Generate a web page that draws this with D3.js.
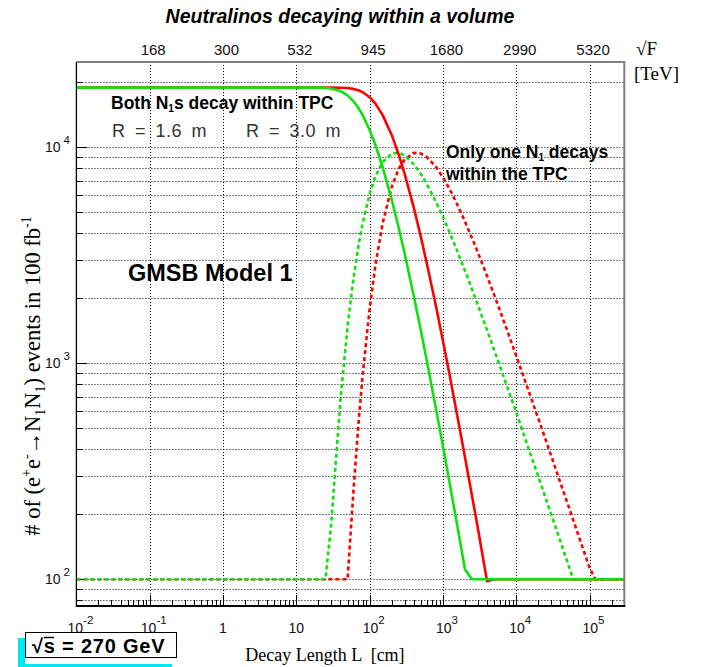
<!DOCTYPE html>
<html>
<head>
<meta charset="utf-8">
<script src="https://cdn.jsdelivr.net/npm/d3@7/dist/d3.min.js"></script>
<style>
  body { margin: 0; background: #fff; }
  svg { display: block; }
</style>
</head>
<body>
<svg id="chart" width="703" height="667"></svg>
<script>
// Decay length L in cm (shared sampling for all four curves)
const decayLength = [0.01, 10, 20, 25, 30, 40, 50, 60, 70, 80, 100, 120, 150, 200, 250, 300, 400, 500, 600, 800,
  1000, 1200, 1500, 2000, 2500, 3000, 4000, 5000, 7000, 10000, 15000, 20000, 30000, 40000, 50000, 60000,
  70000, 80000, 100000, 120000, 150000, 300000];

// Both N1s decay within the TPC
const bothR16 = [18900, 18900, 18890, 18840, 18720, 18210, 17390, 16370, 15250, 14130, 12030, 10250, 8130, 5730,
  4220, 3230, 2050, 1420, 1036, 621, 414, 294, 193, 111, 100, 100, 100, 100, 100, 100, 100, 100, 100, 100, 100,
  100, 100, 100, 100, 100, 100, 100];
const bothR30 = [18900, 18900, 18900, 18900, 18900, 18880, 18810, 18640, 18380, 18020, 17060, 15930, 14130, 11410,
  9220, 7550, 5260, 3850, 2920, 1850, 1270, 925, 621, 367, 242, 172, 98, 100, 100, 100, 100, 100, 100, 100, 100,
  100, 100, 100, 100, 100, 100, 100];

// Only one N1 decays within the TPC
const oneR16 = [100, 100, 100, 100, 182, 679, 1479, 2445, 3453, 4422, 6091, 7337, 8532, 9353, 9421, 9166, 8354,
  7518, 6777, 5611, 4764, 4128, 3438, 2683, 2198, 1860, 1424, 1153, 835, 592, 396, 299, 200, 150, 120, 100, 100,
  100, 100, 100, 100, 100];
const oneR30 = [100, 100, 100, 100, 100, 100, 100, 253, 513, 868, 1788, 2848, 4422, 6551, 7956, 8791, 9421, 9360,
  9021, 8124, 7258, 6512, 5611, 4532, 3791, 3256, 2536, 2073, 1519, 1084, 733, 555, 373, 280, 225, 188, 161, 141,
  113, 100, 100, 100];

// Axis ticks and labels
const bottomTicks = [0.01, 0.1, 1, 10, 100, 1000, 10000, 100000];
const bottomLabels = [["10", "-2"], ["10", "-1"], ["1", ""], ["10", ""], ["10", "2"], ["10", "3"], ["10", "4"], ["10", "5"]];
const topTicks = [0.1, 1, 10, 100, 1000, 10000, 100000];
const topLabels = ["168", "300", "532", "945", "1680", "2990", "5320"];
const leftTicks = [100, 1000, 10000];
const leftLabels = [["10", "2"], ["10", "3"], ["10", "4"]];

const GREEN = "#10e010";
const RED = "#ff0000";
const SANS = "'Liberation Sans', Arial, Helvetica, sans-serif";
const SERIF = "'Liberation Serif', 'Times New Roman', serif";

const svg = d3.select("#chart");
const plot = { left: 76.4, right: 624.3, top: 62, bottom: 606 };

const x = d3.scaleLog().domain([0.01, 298000]).range([plot.left, plot.right]);
const y = d3.scaleLog().domain([75.2, 24830]).range([plot.bottom, plot.top]);

// Minor/major tick positions along each log axis
function logSteps(lo, hi) {
  const out = [];
  for (let e = Math.floor(Math.log10(lo)); e <= Math.ceil(Math.log10(hi)); e++) {
    for (let m = 1; m <= 9; m++) {
      const v = m * Math.pow(10, e);
      if (v >= lo * 1.0001 && v <= hi / 1.0001) out.push(v);
    }
  }
  return out;
}
const isDecade = d => Math.abs(Math.log10(d) - Math.round(Math.log10(d))) < 1e-6;
const yGrid = logSteps(75.2, 24830);
const xMinor = logSteps(0.01, 298000);

svg.append("defs").append("clipPath").attr("id", "plotClip")
  .append("rect")
  .attr("x", plot.left).attr("y", plot.top)
  .attr("width", plot.right - plot.left).attr("height", plot.bottom - plot.top);

// Dotted grid
const grid = svg.append("g").attr("stroke", "#000").attr("stroke-width", 1).attr("stroke-dasharray", "1,2");
grid.selectAll("line.h").data(yGrid).join("line")
  .attr("x1", plot.left).attr("x2", plot.right)
  .attr("y1", d => Math.round(y(d)) + 0.5).attr("y2", d => Math.round(y(d)) + 0.5);
grid.selectAll("line.v").data(bottomTicks.slice(1)).join("line")
  .attr("y1", plot.top).attr("y2", plot.bottom)
  .attr("x1", d => Math.round(x(d)) + 0.5).attr("x2", d => Math.round(x(d)) + 0.5);

// Inner ticks on bottom and left edges
const ticks = svg.append("g").attr("stroke", "#000").attr("stroke-width", 1);
ticks.selectAll("line.bx").data(xMinor).join("line")
  .attr("x1", d => Math.round(x(d)) + 0.5).attr("x2", d => Math.round(x(d)) + 0.5)
  .attr("y1", plot.bottom)
  .attr("y2", d => plot.bottom - (isDecade(d) ? 11 : 6));
ticks.selectAll("line.ly").data(yGrid).join("line")
  .attr("y1", d => Math.round(y(d)) + 0.5).attr("y2", d => Math.round(y(d)) + 0.5)
  .attr("x1", plot.left)
  .attr("x2", d => plot.left + (isDecade(d) ? 11 : 6));

// Curves
const line = d3.line().x(d => x(d[0])).y(d => y(d[1]));
const curves = svg.append("g").attr("clip-path", "url(#plotClip)").attr("fill", "none")
  .attr("stroke-width", 2.6).attr("stroke-linejoin", "round");
const series = [
  { v: oneR30, c: RED, dash: "4,3" },
  { v: oneR16, c: GREEN, dash: "4,3" },
  { v: bothR30, c: RED, dash: null },
  { v: bothR16, c: GREEN, dash: null }
];
series.forEach(s => {
  curves.append("path")
    .datum(decayLength.map((L, i) => [L, s.v[i]]))
    .attr("d", line)
    .attr("stroke", s.c)
    .attr("stroke-dasharray", s.dash);
});

// Frame
const frame = svg.append("g").attr("fill", "none");
frame.append("line").attr("x1", plot.left).attr("x2", plot.right + 1).attr("y1", plot.top).attr("y2", plot.top)
  .attr("stroke", "#808080").attr("stroke-width", 2);
frame.append("line").attr("x1", plot.right).attr("x2", plot.right).attr("y1", plot.top).attr("y2", plot.bottom)
  .attr("stroke", "#808080").attr("stroke-width", 2);
frame.append("line").attr("x1", plot.left).attr("x2", plot.left).attr("y1", plot.top).attr("y2", plot.bottom + 1)
  .attr("stroke", "#000").attr("stroke-width", 1.3);
frame.append("line").attr("x1", plot.left).attr("x2", plot.right + 1).attr("y1", plot.bottom).attr("y2", plot.bottom)
  .attr("stroke", "#000").attr("stroke-width", 2);

// Bottom axis labels (powers of ten)
const bl = svg.append("g").attr("font-family", SANS).attr("font-size", 14).attr("fill", "#111");
bottomTicks.forEach((t, i) => {
  const [base, exp] = bottomLabels[i];
  const tx = bl.append("text").attr("x", x(t) + (exp ? 4 : 0)).attr("y", 633).attr("text-anchor", "middle");
  tx.append("tspan").text(base);
  if (exp) tx.append("tspan").attr("dy", -9).attr("font-size", 11.5).text(exp);
});

// Left axis labels
leftTicks.forEach((t, i) => {
  const [base, exp] = leftLabels[i];
  const tx = bl.append("text").attr("x", 70).attr("y", y(t) + 5).attr("text-anchor", "end");
  tx.append("tspan").text(base);
  tx.append("tspan").attr("dx", 3).attr("dy", -8).attr("font-size", 11.5).text(exp);
});

// Top axis (sqrt F)
const topAxis = d3.axisTop(x).tickValues(topTicks).tickSize(0).tickPadding(6)
  .tickFormat((d, i) => topLabels[i]);
const tg = svg.append("g").attr("transform", `translate(3,${plot.top - 1})`).call(topAxis);
tg.select(".domain").remove();
tg.selectAll("text").attr("font-family", SANS).attr("font-size", 15).attr("fill", "#111");

svg.append("text").attr("x", 636).attr("y", 55).attr("font-family", SERIF).attr("font-size", 19)
  .text("\u221AF");
svg.append("text").attr("x", 634).attr("y", 80).attr("font-family", SERIF).attr("font-size", 19)
  .text("[TeV]");

// Title
svg.append("text").attr("x", 340).attr("y", 23).attr("text-anchor", "middle")
  .attr("font-family", SANS).attr("font-size", 19.5).attr("font-weight", "bold").attr("font-style", "italic")
  .text("Neutralinos decaying within a volume");

// Axis titles
svg.append("text").attr("x", 325).attr("y", 661).attr("text-anchor", "middle")
  .attr("font-family", SERIF).attr("font-size", 18).text("Decay Length L  [cm]").attr("xml:space", "preserve")
  .style("white-space", "pre");

const yt = svg.append("text").attr("transform", "translate(40,376) rotate(-90)").attr("text-anchor", "middle")
  .attr("font-family", SERIF).attr("font-size", 22.5);
yt.append("tspan").text("# of (e");
yt.append("tspan").attr("dy", -9).attr("font-size", 14).text("+");
yt.append("tspan").attr("dy", 9).text("e");
yt.append("tspan").attr("dy", -9).attr("font-size", 14).text("-");
yt.append("tspan").attr("dy", 9).text("\u2192N");
yt.append("tspan").attr("dy", 5).attr("font-size", 14).text("1");
yt.append("tspan").attr("dy", -5).text("N");
yt.append("tspan").attr("dy", 5).attr("font-size", 14).text("1");
yt.append("tspan").attr("dy", -5).text(") events in 100 fb");
yt.append("tspan").attr("dy", -9).attr("font-size", 14).text("-1");

// In-plot annotations
const ann = svg.append("g").attr("font-family", SANS).attr("fill", "#000");
const both = ann.append("text").attr("x", 111).attr("y", 109).attr("font-size", 17.5).attr("font-weight", "bold");
both.append("tspan").text("Both N");
both.append("tspan").attr("dy", 3).attr("font-size", 10).text("1");
both.append("tspan").attr("dy", -3).text("s decay within TPC");

ann.append("text").attr("x", 112).attr("y", 137).attr("font-size", 18).attr("fill", "#333")
  .attr("letter-spacing", 0.5).attr("word-spacing", 4).text("R = 1.6 m");
ann.append("text").attr("x", 246).attr("y", 137).attr("font-size", 18).attr("fill", "#333")
  .attr("letter-spacing", 0.5).attr("word-spacing", 4).text("R = 3.0 m");

const one = ann.append("text").attr("x", 446).attr("y", 158).attr("font-size", 17.5).attr("font-weight", "bold");
one.append("tspan").text("Only one N");
one.append("tspan").attr("dy", 3).attr("font-size", 10).text("1");
one.append("tspan").attr("dy", -3).text(" decays");
ann.append("text").attr("x", 446).attr("y", 180).attr("font-size", 17.5).attr("font-weight", "bold")
  .text("within the TPC");

ann.append("text").attr("x", 128).attr("y", 281).attr("font-size", 23.5).attr("font-weight", "bold")
  .text("GMSB Model 1");

// Centre-of-mass energy box
const box = svg.append("g");
box.append("rect").attr("x", 18).attr("y", 638).attr("width", 7).attr("height", 29).attr("fill", "#00e8f0");
box.append("rect").attr("x", 18).attr("y", 664).attr("width", 154).attr("height", 3).attr("fill", "#00e8f0");
box.append("rect").attr("x", 25.5).attr("y", 632.5).attr("width", 151).attr("height", 25)
  .attr("fill", "#fff").attr("stroke", "#000").attr("stroke-width", 1);
box.append("text").attr("x", 32).attr("y", 653).attr("font-family", SANS).attr("font-size", 20)
  .attr("font-weight", "bold").attr("letter-spacing", 0.8).text("\u221As = 270 GeV");
box.append("line").attr("x1", 44).attr("x2", 54).attr("y1", 637.5).attr("y2", 637.5)
  .attr("stroke", "#000").attr("stroke-width", 1.5);
</script>
</body>
</html>
